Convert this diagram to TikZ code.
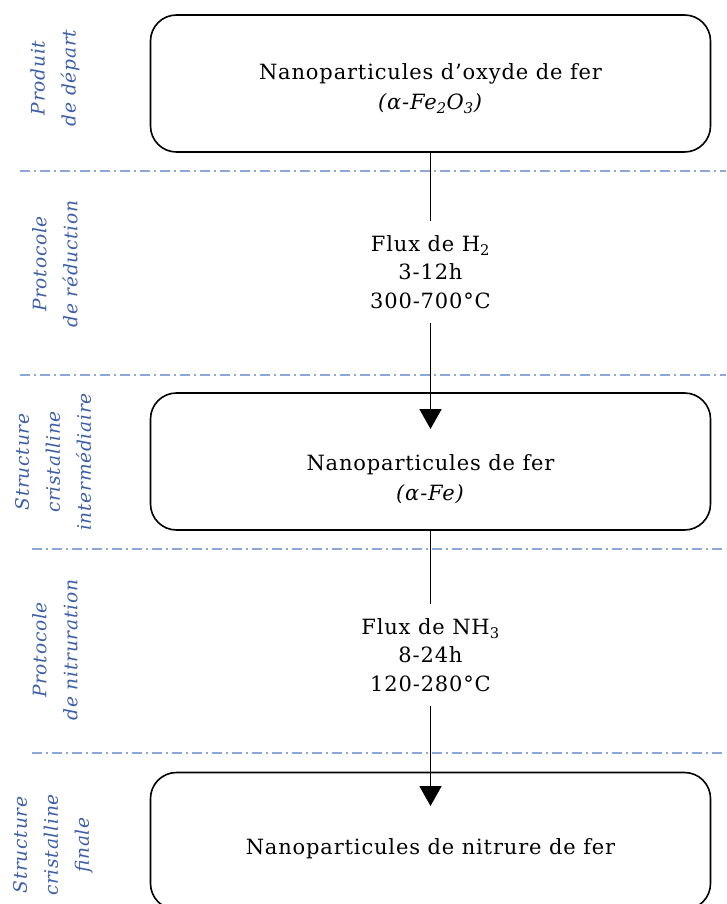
\documentclass[tikz,border=0pt]{standalone}
\usepackage{fontspec}
\setmainfont{DejaVu Serif}[LetterSpace=4]
\usetikzlibrary{arrows.meta}
\definecolor{labelblue}{RGB}{59,94,168}
\definecolor{sepblue}{RGB}{140,168,218}
\tikzset{
    stage/.style={draw, line width=1.6pt, rounded corners=26pt,
        minimum width=560pt, minimum height=137pt, align=center,
        font=\fontsize{21}{30}\selectfont},
    protocol/.style={align=center, inner ysep=14.5pt,
        font=\fontsize{21}{28.5}\selectfont},
    band/.style={rotate=90, align=center, text=labelblue,
        font=\fontsize{18.6}{31}\selectfont\itshape},
    bandline/.style={sepblue, line width=1.2pt,
        dash pattern=on 10pt off 4pt on 2pt off 4pt},
    flow/.style={line width=1.8pt},
    flowarrow/.style={line width=1.8pt, -{Triangle[width=22pt,length=20pt]}}
}
\begin{document}
\begin{tikzpicture}[x=1pt,y=-1pt]
    \useasboundingbox (0,0) rectangle (726,904);

    % separations
    \foreach \y/\x in {171/20, 375/20, 549/32, 753/32}
        \draw[bandline] (\x,\y) -- (726,\y);

    % bands
    \node[band] (depart) at (55,78) {Produit\\de départ};
    \node[band] (reduction) at (55,264) {Protocole\\de réduction};
    \node[band] (intermediaire) at (53,462) {Structure\\cristalline\\intermédiaire};
    \node[band] (nitruration) at (55,650) {Protocole\\de nitruration};
    \node[band] (finale) at (53,845) {Structure\\cristalline\\finale};

    % stages
    \node[stage, text height=54pt, text depth=2pt] (oxyde) at (430.5,83.5)
        {Nanoparticules d’oxyde de fer\\\textit{(α-Fe\textsubscript{2}O\textsubscript{3})}};
    \node[stage, text height=80pt, text depth=2pt] (fer) at (430.5,461.5)
        {Nanoparticules de fer\\\textit{(α-Fe)}};
    \node[stage, text height=29pt, text depth=2pt] (nitrure) at (430.5,841)
        {Nanoparticules de nitrure de fer};

    \node[protocol] (fluxH) at (430.5,272) {Flux de H\textsubscript{2}\\3-12h\\300-700°C};
    \node[protocol] (fluxN) at (430.5,655) {Flux de NH\textsubscript{3}\\8-24h\\120-280°C};

    \coordinate (tipfer) at (430.5,429);
    \coordinate (tipnitrure) at (430.5,806);

    % arrows
    \draw[flow] (oxyde) -- (fluxH);
    \draw[flowarrow] (fluxH) -- (tipfer);
    \draw[flow] (fer) -- (fluxN);
    \draw[flowarrow] (fluxN) -- (tipnitrure);
\end{tikzpicture}
\end{document}
